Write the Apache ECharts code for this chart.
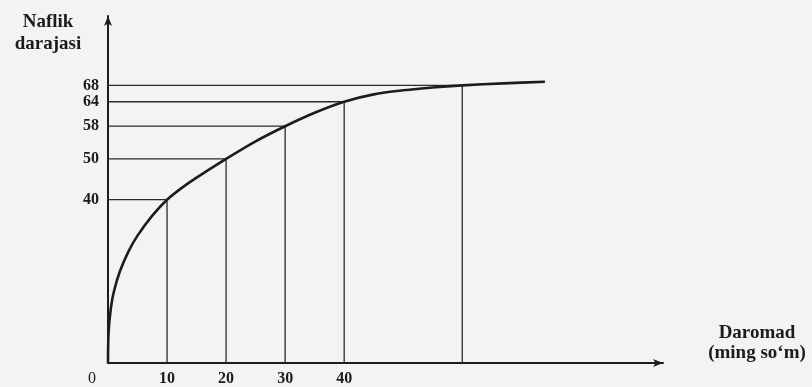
<!DOCTYPE html>
<html>
<head>
<meta charset="utf-8">
<script src="https://cdn.jsdelivr.net/npm/echarts@6/dist/echarts.min.js"></script>
<style>
  html, body { margin: 0; padding: 0; background: #f3f3f3; }
  #chart { width: 812px; height: 387px; }
</style>
</head>
<body>
<div id="chart"></div>
<script>
// Income (thousand so'm) and utility level values
const incomeTicks = [0, 10, 20, 30, 40];
const utilityTicks = [40, 50, 58, 64, 68];

// Reference points marked with guide lines
const guideIncome = [10, 20, 30, 40, 60];
const guideUtility = [40, 50, 58, 64, 68];

// Total utility curve
const curveIncome = [0, 0.1, 0.5, 1, 2, 3.5, 5, 7.5, 10, 12.5, 15, 20, 25, 30, 35, 40, 45, 50, 55, 60, 67, 74];
const curveUtility = [0, 7.6, 13.6, 17.5, 22.4, 27.4, 31.2, 36.1, 40, 42.9, 45.4, 50, 54.3, 58, 61.3, 64, 65.8, 66.8, 67.5, 68, 68.5, 68.9];

const ink = '#1c1c1c';
const serif = '"Liberation Serif", "DejaVu Serif", serif';

const guideSeries = guideIncome.map((x, i) => ({
  type: 'line',
  silent: true,
  symbol: 'none',
  lineStyle: { color: '#2a2a2a', width: 1.3 },
  data: [[0, guideUtility[i]], [x, guideUtility[i]], [x, 0]],
  z: 2
}));

const chart = echarts.init(document.getElementById('chart'));
chart.setOption({
  backgroundColor: '#f3f3f3',
  animation: false,
  grid: { left: 108, right: 149, top: 16, bottom: 23 },
  xAxis: {
    type: 'value',
    min: 0,
    max: 94,
    name: 'Daromad\n(ming so‘m)',
    nameLocation: 'end',
    nameGap: 94,
    nameTextStyle: {
      fontFamily: serif, fontWeight: 'bold', fontSize: 19, color: ink,
      align: 'center', verticalAlign: 'bottom', lineHeight: 20
    },
    splitLine: { show: false },
    axisTick: { show: false },
    axisLine: {
      show: true, onZero: false,
      symbol: ['none', 'arrow'], symbolSize: [6, 10],
      lineStyle: { color: ink, width: 2 }
    },
    axisLabel: {
      customValues: incomeTicks,
      margin: 8,
      fontFamily: serif, fontWeight: 'bold', fontSize: 16, color: ink,
      formatter: v => v === 0 ? '{z|0}' : String(v),
      rich: { z: { fontFamily: serif, fontWeight: 'normal', fontSize: 16, color: ink, padding: [0, 32, 0, 0] } }
    }
  },
  yAxis: {
    type: 'value',
    min: 0,
    max: 85,
    name: 'Naflik\ndarajasi',
    nameLocation: 'end',
    nameGap: 5,
    nameTextStyle: {
      fontFamily: serif, fontWeight: 'bold', fontSize: 19, color: ink,
      align: 'center', verticalAlign: 'top', lineHeight: 22, padding: [0, 120, 0, 0]
    },
    splitLine: { show: false },
    axisTick: { show: false },
    axisLine: {
      show: true, onZero: false,
      symbol: ['none', 'arrow'], symbolSize: [6, 10],
      lineStyle: { color: ink, width: 2 }
    },
    axisLabel: {
      customValues: utilityTicks,
      margin: 9,
      fontFamily: serif, fontWeight: 'bold', fontSize: 16, color: ink
    }
  },
  series: [
    ...guideSeries,
    {
      type: 'line',
      silent: true,
      symbol: 'none',
      smooth: 0.3,
      lineStyle: { color: ink, width: 2.6 },
      data: curveIncome.map((x, i) => [x, curveUtility[i]]),
      z: 3
    }
  ]
});
</script>
</body>
</html>
